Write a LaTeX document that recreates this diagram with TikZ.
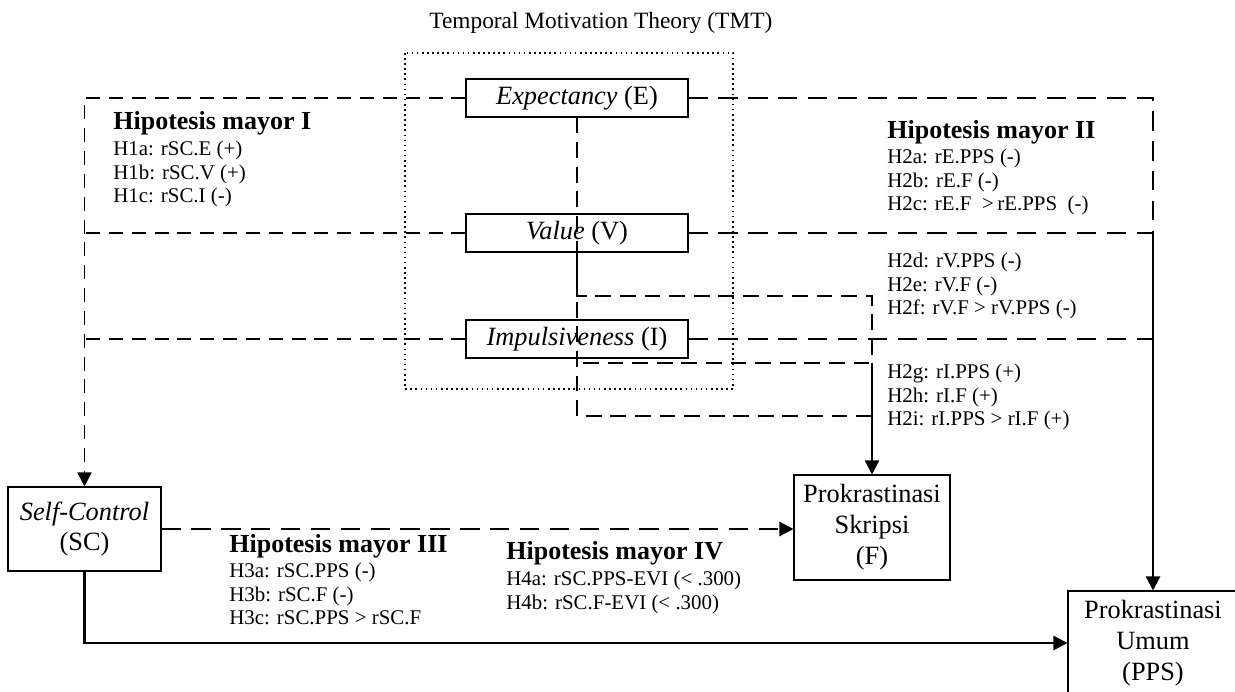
\documentclass[tikz,border=0pt]{standalone}
\usepackage{fontspec}
\setmainfont{Liberation Serif}
\usetikzlibrary{arrows.meta}

\tikzset{
  box/.style={draw, line width=0.6pt, align=center, inner sep=2pt,
    font=\fontsize{15}{17.6}\selectfont},
  dashthin/.style={line width=0.8pt, dash pattern=on 8pt off 5pt},
  dashmid/.style={line width=1pt, dash pattern=on 9pt off 5pt},
  dashthick/.style={line width=1.3pt, dash pattern=on 11pt off 6pt},
  arr/.style={-{Triangle[length=8pt,width=8pt]}},
  hyp/.style={anchor=west, inner sep=0pt, font=\fontsize{14.8}{17}\selectfont\bfseries},
  hypbody/.style={anchor=north west, inner sep=0pt, align=left,
    font=\fontsize{11.9}{13.4}\selectfont},
}

\begin{document}
\begin{tikzpicture}[x=0.02cm, y=-0.02cm]
      \useasboundingbox (0,0) rectangle (1235,691);
      \node[anchor=west, inner sep=0pt, font=\fontsize{13.3}{15}\selectfont] (tmt)
        at (429,23) {Temporal Motivation Theory (TMT)};
      \draw[dotted, line width=0.9pt] (405,53) rectangle (733,389);
      % TMT components
      \node[box, minimum width=4.44cm, minimum height=0.76cm] (E) at (577,98) {\textit{Expectancy} (E)};
      \node[box, minimum width=4.44cm, minimum height=0.76cm] (V) at (577,233) {\textit{Value} (V)};
      \node[box, minimum width=4.44cm, minimum height=0.76cm] (I) at (577,339) {\textit{Impulsiveness} (I)};
      \node[box, minimum width=3.06cm, minimum height=1.68cm] (SC) at (84.5,529) {\textit{Self-Control}\\(SC)};
      \node[box, minimum width=3.12cm, minimum height=2.1cm] (F) at (872,527.5) {Prokrastinasi\\Skripsi\\(F)};
      \node[box, minimum width=3.4cm, minimum height=2.08cm] (PPS) at (1153,643) {Prokrastinasi\\Umum\\(PPS)};
      % hypotheses
      \node[hyp] (h1) at (113,123) {Hipotesis mayor I};
      \node[hypbody] (h1txt) at (113,141) {H1a: rSC.E (+)\\H1b: rSC.V (+)\\H1c: rSC.I (-)};
      \node[hyp] (h2) at (887,132) {Hipotesis mayor II};
      \node[hypbody] (h2txt) at (887,149) {H2a: rE.PPS (-)\\H2b: rE.F (-)\\H2c: rE.F \ >\,rE.PPS \ (-)};
      \node[hypbody] (h2vtxt) at (887,253) {H2d: rV.PPS (-)\\H2e: rV.F (-)\\H2f: rV.F > rV.PPS (-)};
      \node[hypbody] (h2itxt) at (887,364) {H2g: rI.PPS (+)\\H2h: rI.F (+)\\H2i: rI.PPS > rI.F (+)};
      \node[hyp] (h3) at (229,546) {Hipotesis mayor III};
      \node[hypbody] (h3txt) at (229,563) {H3a: rSC.PPS (-)\\H3b: rSC.F (-)\\H3c: rSC.PPS > rSC.F};
      \node[hyp] (h4) at (506,553) {Hipotesis mayor IV};
      \node[hypbody] (h4txt) at (506,571) {H4a: rSC.PPS-EVI (< .300)\\H4b: rSC.F-EVI (< .300)};
      % TMT -> SC
      \draw[dashthin, arr] (E.west) -- (E.west -| SC.north) -- (SC.north);
      \draw[dashthin] (V.west) -- (V.west -| SC.north);
      \draw[dashthin] (I.west) -- (I.west -| SC.north);
      % TMT -> PPS
      \draw[dashthick] (E.east) -- (E.east -| PPS.north) -- (V.east -| PPS.north);
      \draw[dashthick] (V.east) -- (V.east -| PPS.north);
      \draw[dashthick] (I.east) -- (I.east -| PPS.north);
      \draw[line width=1.3pt, arr] (V.east -| PPS.north) -- (PPS.north);
      % TMT -> F
      \coordinate (Ejoint) at (577,296);
      \coordinate (Vjoint) at (577,416);
      \coordinate (Istart) at (583,363);
      \draw[dashmid] (E.south) -- (Ejoint) -- (Ejoint -| F.north) -- (Istart -| F.north);
      \draw[dashmid] (V.south) -- (Vjoint) -- (Vjoint -| F.north);
      \draw[dashmid] (Istart) -- (Istart -| F.north);
      \draw[line width=1pt, arr] (Istart -| F.north) -- (F.north);
      % SC -> F, SC -> PPS
      \draw[dashthick, arr] (SC.east) -- (SC.east -| F.west);
      \draw[line width=1.3pt, arr] (SC.south) |- (PPS.west);
\end{tikzpicture}
\end{document}
